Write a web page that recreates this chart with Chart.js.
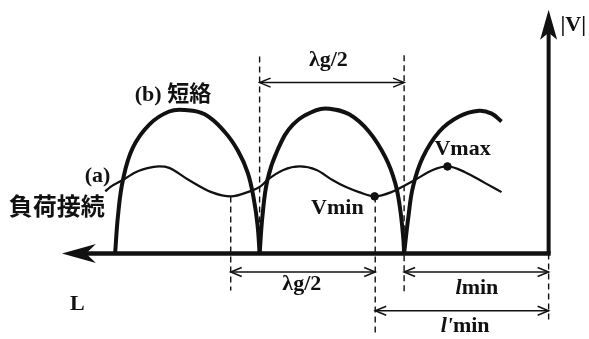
<!DOCTYPE html>
<html>
<head>
<meta charset="utf-8">
<script src="https://cdn.jsdelivr.net/npm/chart.js@4.4.0/dist/chart.umd.min.js"></script>
<style>
  html, body { margin: 0; padding: 0; background: #fff; }
  #wrap { width: 589px; height: 339px; position: relative; }
</style>
</head>
<body>
<div id="wrap"><canvas id="chartWave"></canvas></div>
<script>
// distance measured to the left of the |V| axis, in λg
// |V| in units of the incident amplitude

// (a) 負荷接続
const distA = [1.534, 1.517, 1.473, 1.429, 1.371, 1.347, 1.313, 1.245, 1.167, 1.099, 1.041, 0.997, 0.973, 0.918, 0.861, 0.803, 0.748, 0.701, 0.656, 0.602, 0.544, 0.463, 0.401, 0.350, 0.289, 0.221, 0.163];
const voltA = [0.87, 0.93, 1.03, 1.14, 1.21, 1.22, 1.20, 1.03, 0.86, 0.80, 0.86, 0.94, 1.03, 1.17, 1.22, 1.17, 1.03, 0.93, 0.86, 0.80, 0.86, 1.03, 1.17, 1.22, 1.14, 0.99, 0.86];

// (b) 短絡, one arch per half wavelength
const distB1 = [1.5, 1.490, 1.473, 1.439, 1.381, 1.313, 1.259, 1.190, 1.122, 1.075, 1.041, 1.020, 1.007, 1.0];
const voltB1 = [0, 0.53, 1.03, 1.48, 1.81, 1.99, 2.01, 1.95, 1.71, 1.44, 1.13, 0.76, 0.39, 0];
const distB2 = [1.0, 0.990, 0.973, 0.939, 0.884, 0.803, 0.759, 0.690, 0.622, 0.565, 0.531, 0.514, 0.503, 0.5];
const voltB2 = [0, 0.53, 1.03, 1.44, 1.81, 2.01, 2.03, 1.95, 1.71, 1.35, 0.99, 0.63, 0.22, 0];
const distB3 = [0.5, 0.486, 0.469, 0.435, 0.378, 0.310, 0.241, 0.197, 0.163];
const voltB3 = [0, 0.49, 0.94, 1.35, 1.71, 1.92, 2.00, 1.96, 1.85];

// Vmin, Vmax markers
const markDist = [0.602, 0.350];
const markVolt = [0.80, 1.22];

// dashed guide lines
const guideDist = [1.0, 0.5, 1.1, 0.6, 0.0];
const guideTop = [2.76, 2.78, 0.80, 0.80, 0];
const guideBottom = [0, -0.53, -0.52, -1.13, -0.98];

// dimension arrows
const spanFrom = [1.0, 1.1, 0.5, 0.6];
const spanTo = [0.5, 0.6, 0.0, 0.0];
const spanLevel = [2.395, -0.259, -0.259, -0.803];
const spanPrefix = ['', '', 'l', "l'"];
const spanText = ['λg/2', 'λg/2', 'min', 'min'];
const spanLabelDist = [0.762, 0.854, 0.248, 0.289];
const spanLabelVolt = [2.707, -0.435, -0.49, -1.02];

// free labels
const labelText = ['(b) 短絡', '(a)', '負荷接続', 'Vmax', 'Vmin', 'L', '|V|'];
const labelDist = [1.432, 1.605, 1.868, 0.395, 0.822, 1.656, -0.041];
const labelVolt = [2.218, 1.075, 0.667, 1.456, 0.639, -0.707, 3.197];

// axes
const axisTip = 1.684;
const axisTop = 3.415;

const ink = '#111';
const toPts = (xs, ys) => xs.map((x, i) => ({ x: x, y: ys[i] }));

const curve = (xs, ys, w, smooth) => ({
  data: toPts(xs, ys),
  showLine: true,
  borderColor: ink,
  borderWidth: w,
  pointRadius: 0,
  tension: 0.4,
  cubicInterpolationMode: smooth,
  fill: false
});

const guideSets = guideDist.map((d, i) => ({
  data: [{ x: d, y: guideTop[i] }, { x: d, y: guideBottom[i] }],
  showLine: true,
  borderColor: ink,
  borderWidth: 1.4,
  borderDash: [6, 4],
  pointRadius: 0
}));

const axisSets = [
  { data: [{ x: -0.007, y: 0 }, { x: axisTip - 0.08, y: 0 }], showLine: true, borderColor: ink, borderWidth: 4.5, pointRadius: 0 },
  { data: [{ x: 0, y: 0 }, { x: 0, y: axisTop - 0.3 }], showLine: true, borderColor: ink, borderWidth: 4, pointRadius: 0 }
];

function headFilled(ctx, tx, ty, dx, dy, len, half, notch) {
  const nx = -dy, ny = dx;
  const bx = tx - dx * len, by = ty - dy * len;
  ctx.beginPath();
  ctx.moveTo(tx, ty);
  ctx.lineTo(bx + nx * half, by + ny * half);
  ctx.lineTo(tx - dx * notch, ty - dy * notch);
  ctx.lineTo(bx - nx * half, by - ny * half);
  ctx.closePath();
  ctx.fill();
}

function headOpen(ctx, tx, ty, dx) {
  ctx.beginPath();
  ctx.moveTo(tx - dx * 11, ty - 4.5);
  ctx.lineTo(tx, ty);
  ctx.lineTo(tx - dx * 11, ty + 4.5);
  ctx.stroke();
}

const latin = 'bold 22px "Liberation Serif", "Noto Sans CJK JP"';
const latinItalic = 'italic bold 22px "Liberation Serif"';

const sketchPlugin = {
  id: 'sketch',
  afterDatasetsDraw(chart) {
    const ctx = chart.ctx;
    const xs = chart.scales.x, ys = chart.scales.y;
    ctx.save();
    ctx.fillStyle = ink;
    ctx.strokeStyle = ink;

    // axis arrow heads
    headFilled(ctx, xs.getPixelForValue(axisTip), ys.getPixelForValue(0), -1, 0, 34, 9.5, 24);
    headFilled(ctx, xs.getPixelForValue(0), ys.getPixelForValue(axisTop), 0, -1, 30, 8.5, 23);

    // dimension arrows
    ctx.lineWidth = 1.5;
    spanFrom.forEach((d, i) => {
      const x1 = xs.getPixelForValue(d), x2 = xs.getPixelForValue(spanTo[i]);
      const y = ys.getPixelForValue(spanLevel[i]);
      ctx.beginPath();
      ctx.moveTo(x1, y);
      ctx.lineTo(x2, y);
      ctx.stroke();
      headOpen(ctx, x1, y, -1);
      headOpen(ctx, x2, y, 1);

      const cx = xs.getPixelForValue(spanLabelDist[i]);
      const cy = ys.getPixelForValue(spanLabelVolt[i]);
      ctx.textBaseline = 'middle';
      ctx.textAlign = 'left';
      ctx.font = latinItalic;
      const wp = ctx.measureText(spanPrefix[i]).width;
      ctx.font = latin;
      const wt = ctx.measureText(spanText[i]).width;
      const left = cx - (wp + wt) / 2;
      ctx.font = latinItalic;
      ctx.fillText(spanPrefix[i], left, cy);
      ctx.font = latin;
      ctx.fillText(spanText[i], left + wp, cy);
    });

    // labels
    ctx.textAlign = 'left';
    ctx.textBaseline = 'middle';
    labelText.forEach((t, i) => {
      ctx.font = /[^\x00-\x7f]/.test(t) && !t.startsWith('(') ? 'bold 24px "Noto Sans CJK JP"' : latin;
      ctx.fillText(t, xs.getPixelForValue(labelDist[i]), ys.getPixelForValue(labelVolt[i]));
    });
    ctx.restore();
  }
};

new Chart(document.getElementById('chartWave'), {
  type: 'scatter',
  data: {
    datasets: [
      {
        data: toPts(markDist, markVolt),
        pointRadius: 3.8,
        pointBackgroundColor: ink,
        pointBorderColor: ink,
        showLine: false
      },
      curve(distA, voltA, 2.2, 'monotone'),
      curve(distB1, voltB1, 4, 'default'),
      curve(distB2, voltB2, 4, 'default'),
      curve(distB3, voltB3, 4, 'default'),
      ...axisSets,
      ...guideSets
    ]
  },
  options: {
    responsive: true,
    maintainAspectRatio: false,
    animation: false,
    layout: { padding: 0 },
    plugins: { legend: { display: false }, tooltip: { enabled: false } },
    scales: {
      x: { type: 'linear', reverse: true, min: -0.1224, max: 1.881, display: false },
      y: { type: 'linear', min: -1.129, max: 3.483, display: false }
    }
  },
  plugins: [sketchPlugin]
});
</script>
</body>
</html>
